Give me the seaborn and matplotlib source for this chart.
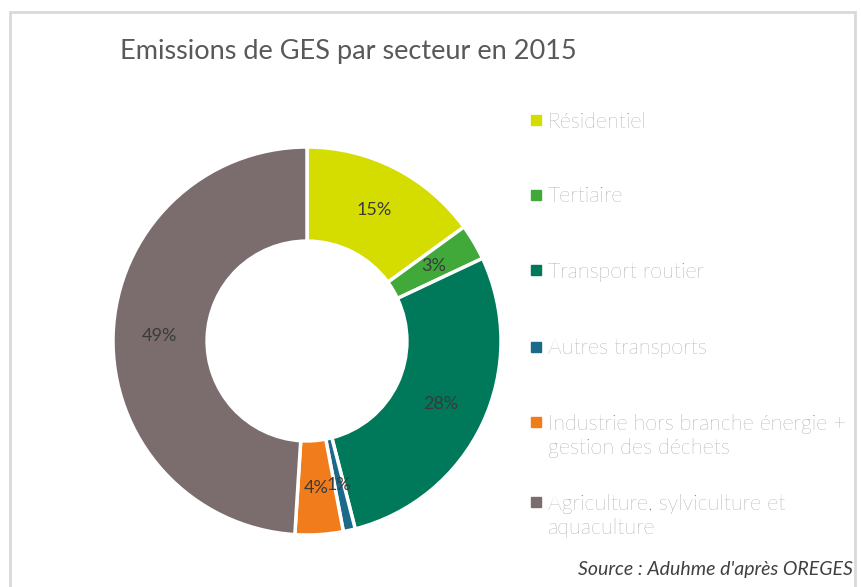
import matplotlib.pyplot as plt
import seaborn as sns
from matplotlib.lines import Line2D
from matplotlib.patches import Rectangle

# data
sectors = ["Résidentiel", "Tertiaire", "Transport routier", "Autres transports",
           "Industrie hors branche énergie +\ngestion des déchets",
           "Agriculture, sylviculture et\naquaculture"]
shares = [15, 3, 28, 1, 4, 49]
colors = ["#d5dc00", "#40a93a", "#00785a", "#1b6a8a", "#f07c1b", "#7b6d6d"]
title = "Emissions de GES par secteur en 2015"
source = "Source : Aduhme d'après OREGES"

sns.set_theme(style="white")
plt.rcParams['font.family'] = ['Lato', 'DejaVu Sans']

W, H = 861, 587
fig = plt.figure(figsize=(W / 100, H / 100), dpi=100)

# donut
cx, cy, R = 307, 341, 194
ax = fig.add_axes([(cx - R) / W, (H - cy - R) / H, 2 * R / W, 2 * R / H])
wedges, _, pcts = ax.pie(
    shares, colors=colors, startangle=90, counterclock=False,
    autopct=lambda p: f"{p:.0f}%", pctdistance=0.76,
    wedgeprops=dict(width=0.485, edgecolor="white", linewidth=2.5),
    textprops=dict(color="#3a3a3a", fontsize=13),
)
ax.set_xlim(-1, 1)
ax.set_ylim(-1, 1)

# title
fig.text(348 / W, 1 - 51 / H, title, ha="center", va="center",
         fontsize=19.5, color="#595959")

# legend drawn by hand so the rows sit where the reference puts them
rows = [120, 195, 270, 347, 422, 502]
for lab, col, y in zip(sectors, colors, rows):
    fig.add_artist(Line2D([536 / W], [1 - y / H], marker="s", markersize=7,
                          color=col, linestyle="none", transform=fig.transFigure))
    # one text per line, first baseline half a cap height below the marker
    for i, line in enumerate(lab.split("\n")):
        fig.text(548 / W, 1 - (y + 7.5 + 25 * i) / H, line, ha="left", va="baseline",
                 fontsize=15.5, color="#6f6f6f", fontweight="light")

fig.text(578 / W, 1 - 569 / H, source, ha="left", va="center",
         fontsize=14, style="italic", color="#404040")

# light frame around the chart
fig.add_artist(Rectangle((10 / W, -0.05), (855 - 10) / W, 1 - 12 / H + 0.05,
                         fill=False, edgecolor="#d9d9d9", linewidth=2,
                         transform=fig.transFigure))

fig.savefig("out.png", dpi=100)
